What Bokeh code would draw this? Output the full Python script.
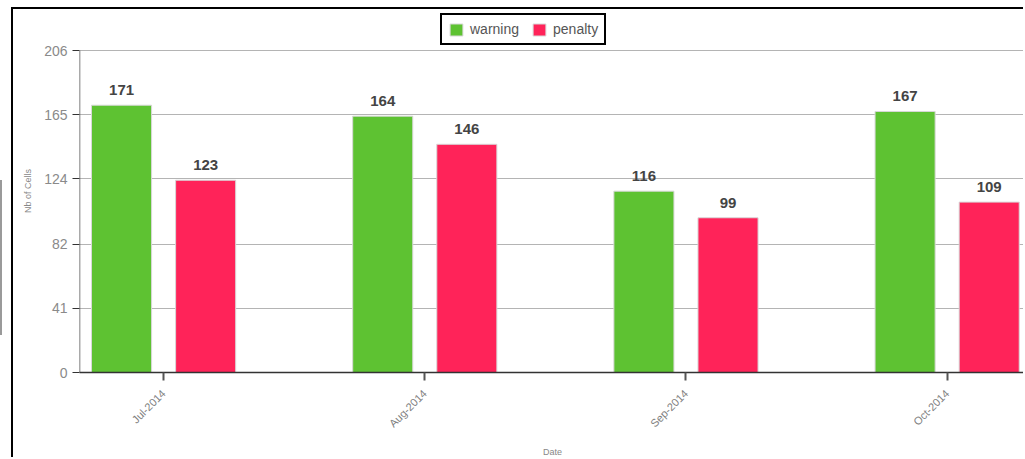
import math
from bokeh.plotting import figure
from bokeh.models import (ColumnDataSource, FixedTicker, Legend, LegendItem,
                          Range1d, InlineStyleSheet)
from bokeh.transform import dodge
from bokeh.core.properties import value
from bokeh.embed import file_html
from bokeh.resources import INLINE

months = ["Jul-2014", "Aug-2014", "Sep-2014", "Oct-2014"]
warning = [171, 164, 116, 167]
penalty = [123, 146, 99, 109]
y_ticks = [0, 41, 82, 124, 165, 206]

GREEN = "#5ec232"
RED = "#ff2359"
FONT = "Liberation Sans"

idx = list(range(len(months)))
src = ColumnDataSource(dict(
    idx=idx, month=months, warning=warning, penalty=penalty,
    wl=[str(v) for v in warning], pl=[str(v) for v in penalty],
))

css = InlineStyleSheet(css="""
:host {
  margin-left: 11px;
  margin-top: 7px;
  border-left: 2px solid black;
  border-top: 2px solid black;
}
:host::before {
  content: '';
  position: absolute;
  left: -13px;
  top: 171px;
  width: 2px;
  height: 155px;
  background: #9a9a9a;
}
""")

# frame extends above the top tick so the legend (inside the frame) is visible
y_top = y_ticks[-1] * 363.0 / 322.0
p = figure(width=1012, height=450, output_backend="svg", toolbar_location=None,
           x_range=Range1d(-0.322, 3.30), y_range=Range1d(0, y_top),
           min_border_left=66, min_border_right=0, min_border_top=0,
           min_border_bottom=87, stylesheets=[css])
p.outline_line_color = None
p.background_fill_color = "white"
p.border_fill_color = "white"

off = 0.161
w = 0.23
rw = p.vbar(x=dodge("idx", -off, range=p.x_range), top="warning", width=w, source=src,
            fill_color=GREEN, line_color="#d8d8d8", line_width=1)
rp = p.vbar(x=dodge("idx", off, range=p.x_range), top="penalty", width=w, source=src,
            fill_color=RED, line_color="#d8d8d8", line_width=1)

for col, lab, d in (("warning", "wl", -off), ("penalty", "pl", off)):
    p.text(x=dodge("idx", d, range=p.x_range), y=col, text=lab, source=src,
           text_align="center", text_baseline="bottom", y_offset=-10,
           text_font=value(FONT), text_font_style="bold", text_font_size="15px",
           text_color="#444444")

# y axis line only up to the top tick
p.segment(x0=[p.x_range.start], y0=[y_ticks[0]], x1=[p.x_range.start], y1=[y_ticks[-1]],
          line_color="#555555", line_width=1.5)

# axes
p.xaxis.ticker = FixedTicker(ticks=idx)
p.xaxis.major_label_overrides = {i: m for i, m in zip(idx, months)}
p.xaxis.major_label_orientation = math.pi / 4
p.xaxis.major_label_text_font = FONT
p.xaxis.major_label_text_font_size = "11px"
p.xaxis.major_label_text_color = "#808080"
p.xaxis.major_label_standoff = 11
p.xaxis.major_tick_in = 0
p.xaxis.major_tick_out = 8
p.xaxis.major_tick_line_color = "#555555"
p.xaxis.major_tick_line_width = 2
p.xaxis.minor_tick_line_color = None
p.xaxis.axis_line_color = "#333333"
p.xaxis.axis_line_width = 1.5
p.xaxis.axis_label = "Date"
p.xaxis.axis_label_text_font = FONT
p.xaxis.axis_label_text_font_size = "9px"
p.xaxis.axis_label_text_font_style = "normal"
p.xaxis.axis_label_text_color = "#888888"
p.xaxis.axis_label_standoff = 10

p.yaxis.ticker = FixedTicker(ticks=y_ticks)
p.yaxis.major_label_text_font = FONT
p.yaxis.major_label_text_font_size = "14px"
p.yaxis.major_label_text_color = "#8a8a8a"
p.yaxis.major_label_standoff = 5
p.yaxis.major_tick_in = 0
p.yaxis.major_tick_out = 7
p.yaxis.major_tick_line_color = "#333333"
p.yaxis.minor_tick_line_color = None
p.yaxis.axis_line_color = None
p.yaxis.axis_label = "Nb of Cells"
p.yaxis.axis_label_text_font = FONT
p.yaxis.axis_label_text_font_size = "9px"
p.yaxis.axis_label_text_font_style = "normal"
p.yaxis.axis_label_text_color = "#888888"
p.yaxis.axis_label_standoff = 8

p.xgrid.grid_line_color = None
p.ygrid.ticker = FixedTicker(ticks=y_ticks)
p.ygrid.grid_line_color = "#b4b4b4"
p.ygrid.grid_line_width = 1

legend = Legend(items=[LegendItem(label="warning", renderers=[rw]),
                       LegendItem(label="penalty", renderers=[rp])],
                orientation="horizontal", location=(361, 327),
                border_line_color="black", border_line_width=2, border_line_alpha=1,
                padding=6, spacing=12, label_standoff=6,
                glyph_width=16, glyph_height=15,
                label_text_font=FONT, label_text_font_size="14px",
                label_text_color="#555555", background_fill_alpha=1)
p.add_layout(legend)

open("out.html", "w").write(file_html(p, INLINE))
